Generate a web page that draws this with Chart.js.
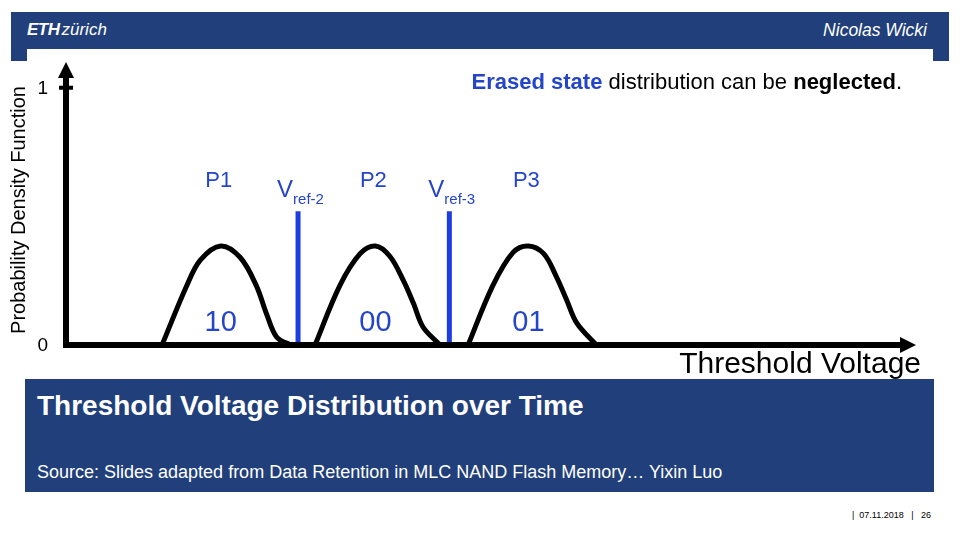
<!DOCTYPE html>
<html>
<head>
<meta charset="utf-8">
<script src="https://cdn.jsdelivr.net/npm/chart.js@4.4.0/dist/chart.umd.min.js"></script>
<style>
  body { margin: 0; background: #fff; }
  #slide { position: relative; width: 960px; height: 540px; overflow: hidden; font-family: "Liberation Sans", Arial, sans-serif; }
  .blue { position: absolute; background: #213f7a; }
  #logo { position: absolute; left: 27px; top: 20px; color: #fff; font-size: 17px; line-height: 20px; font-style: italic; }
  #logo b { font-weight: 900; letter-spacing: -0.5px; margin-right: 2px; }
  #author { position: absolute; right: 33px; top: 20px; color: #fff; font-size: 17.5px; line-height: 20px; font-style: italic; }
  #boxTitle { position: absolute; left: 37px; top: 392px; color: #fff; font-size: 28px; line-height: 28px; font-weight: bold; }
  #source { position: absolute; left: 37px; top: 463px; color: #fff; font-size: 18px; line-height: 18px; }
  #footer { position: absolute; left: 852px; top: 510px; font-size: 9px; line-height: 10px; color: #000; white-space: pre; -webkit-font-smoothing: antialiased; }
  canvas { position: absolute; left: 0; top: 0; }
</style>
</head>
<body>
<div id="slide">
  <div class="blue" style="left:11px;top:12px;width:938px;height:37px"></div>
  <div class="blue" style="left:11px;top:49px;width:16px;height:12px"></div>
  <div class="blue" style="left:933px;top:49px;width:16px;height:12px"></div>
  <div id="logo"><b>ETH</b>zürich</div>
  <div id="author">Nicolas Wicki</div>
  <div class="blue" style="left:25px;top:379px;width:909px;height:113px"></div>
  <div id="boxTitle">Threshold Voltage Distribution over Time</div>
  <div id="source">Source: Slides adapted from Data Retention in MLC NAND Flash Memory… Yixin Luo</div>
  <div id="footer">|  07.11.2018   |   26</div>
  <canvas id="chart" width="960" height="540"></canvas>
</div>
<script>
// state distributions (x = threshold voltage, y = PDF)
const p1X = [1.13, 1.42, 1.58, 1.82, 2.05, 2.24, 2.36, 2.48, 2.64];
const p1Y = [0, 0.23, 0.33, 0.385, 0.34, 0.23, 0.12, 0.03, 0];
const p2X = [2.93, 3.22, 3.46, 3.64, 3.81, 3.97, 4.09, 4.20, 4.40];
const p2Y = [0, 0.23, 0.355, 0.385, 0.345, 0.25, 0.16, 0.07, 0];
const p3X = [4.73, 5.02, 5.26, 5.44, 5.62, 5.77, 5.89, 6.01, 6.24];
const p3Y = [0, 0.23, 0.36, 0.385, 0.355, 0.265, 0.175, 0.085, 0];
const stateNames = ["P1", "P2", "P3"];
const stateBits = ["10", "00", "01"];
const vrefNames = ["ref-2", "ref-3"];
const vrefX = [2.73, 4.51];
const vrefTop = 0.52;
const yTicks = [0, 1];

const BLACK = "#000";
const BLUE_TXT = "#2445c8";
const BLUE_LINE = "#1c3ee0";
const FONT = '"Liberation Sans", Arial, sans-serif';

function toPoints(xs, ys) {
  return xs.map((x, i) => ({x: x, y: ys[i]}));
}

const curves = [toPoints(p1X, p1Y), toPoints(p2X, p2Y), toPoints(p3X, p3Y)];

const datasets = curves.map((pts, i) => ({
  label: stateNames[i],
  data: pts,
  borderColor: BLACK,
  borderWidth: 5,
  pointRadius: 0,
  tension: 0.35,
  fill: false
}));
vrefX.forEach((v, i) => {
  datasets.push({
    label: "V" + vrefNames[i],
    data: [{x: v, y: 0}, {x: v, y: vrefTop}],
    borderColor: BLUE_LINE,
    borderWidth: 5,
    borderCapStyle: "butt",
    pointRadius: 0
  });
});

// axes with arrow heads, tick labels and all chart texts
const slideText = {
  id: "slideText",
  beforeDatasetsDraw(chart) {
    const ctx = chart.ctx;
    const xs = chart.scales.x, ys = chart.scales.y;
    const x0 = xs.getPixelForValue(0), y0 = ys.getPixelForValue(0);
    const top = chart.chartArea.top, right = chart.chartArea.right;
    ctx.save();
    ctx.fillStyle = BLACK;
    // y axis
    ctx.fillRect(x0 - 3, top + 14, 6, y0 - top - 11);
    ctx.beginPath();
    ctx.moveTo(x0, top);
    ctx.lineTo(x0 - 8, top + 16);
    ctx.lineTo(x0 + 8, top + 16);
    ctx.closePath();
    ctx.fill();
    const y1 = ys.getPixelForValue(1);
    ctx.fillRect(x0 - 7, y1 - 2, 14, 4);
    // x axis
    ctx.fillRect(x0 - 3, y0 - 3, right - 14 - x0 + 3, 6);
    ctx.beginPath();
    ctx.moveTo(right, y0);
    ctx.lineTo(right - 16, y0 - 8);
    ctx.lineTo(right - 16, y0 + 8);
    ctx.closePath();
    ctx.fill();
    ctx.restore();
  },
  afterDatasetsDraw(chart) {
    const ctx = chart.ctx;
    const xs = chart.scales.x, ys = chart.scales.y;
    const x0 = xs.getPixelForValue(0), y0 = ys.getPixelForValue(0);
    ctx.save();
    // repaint the baseline over the curve feet
    ctx.fillStyle = BLACK;
    ctx.fillRect(x0 - 3, y0 - 3, chart.chartArea.right - 14 - x0 + 3, 6);

    ctx.textBaseline = "middle";
    ctx.textAlign = "right";
    ctx.font = "19px " + FONT;
    yTicks.forEach(t => ctx.fillText(String(t), x0 - 18, ys.getPixelForValue(t) + 1));

    // axis titles
    ctx.font = "30px " + FONT;
    ctx.textBaseline = "alphabetic";
    ctx.fillText("Threshold Voltage", 921, y0 + 28);
    ctx.save();
    ctx.translate(19, 210);
    ctx.rotate(-Math.PI / 2);
    ctx.textAlign = "center";
    ctx.textBaseline = "middle";
    ctx.font = "20px " + FONT;
    ctx.fillText("Probability Density Function", 0, 0);
    ctx.restore();

    // state labels
    ctx.fillStyle = BLUE_TXT;
    ctx.textAlign = "center";
    ctx.textBaseline = "middle";
    curves.forEach((pts, i) => {
      let peak = pts[0];
      pts.forEach(p => { if (p.y > peak.y) peak = p; });
      const px = xs.getPixelForValue(peak.x);
      const py = ys.getPixelForValue(peak.y);
      ctx.font = "22px " + FONT;
      ctx.fillText(stateNames[i], px - 2, py - 65);
      ctx.font = "29px " + FONT;
      ctx.fillText(stateBits[i], px, y0 - 22);
    });

    // reference voltage labels
    vrefX.forEach((v, i) => {
      const px = xs.getPixelForValue(v);
      const py = ys.getPixelForValue(vrefTop);
      ctx.textAlign = "left";
      ctx.textBaseline = "alphabetic";
      ctx.font = "24px " + FONT;
      ctx.fillText("V", px - 21, py - 14);
      ctx.font = "15px " + FONT;
      ctx.fillText(vrefNames[i], px - 5, py - 7);
    });

    // headline, right aligned
    const runs = [
      {t: "Erased state", bold: true, c: BLUE_TXT},
      {t: " distribution can be ", bold: false, c: BLACK},
      {t: "neglected", bold: true, c: BLACK},
      {t: ".", bold: false, c: BLACK}
    ];
    ctx.textAlign = "left";
    ctx.textBaseline = "alphabetic";
    let w = 0;
    runs.forEach(r => {
      ctx.font = (r.bold ? "bold " : "") + "22px " + FONT;
      r.w = ctx.measureText(r.t).width;
      w += r.w;
    });
    let cx = 902 - w;
    runs.forEach(r => {
      ctx.font = (r.bold ? "bold " : "") + "22px " + FONT;
      ctx.fillStyle = r.c;
      ctx.fillText(r.t, cx, 89);
      cx += r.w;
    });
    ctx.restore();
  }
};

const chart = new Chart(document.getElementById("chart").getContext("2d"), {
  type: "line",
  data: {datasets: datasets},
  options: {
    responsive: false,
    animation: false,
    layout: {padding: {left: 66, right: 44, top: 62, bottom: 195}},
    plugins: {legend: {display: false}, tooltip: {enabled: false}},
    scales: {
      x: {type: "linear", min: 0, max: 10, display: false},
      y: {type: "linear", min: 0, max: 1.1, display: false}
    }
  },
  plugins: [slideText]
});
</script>
</body>
</html>
